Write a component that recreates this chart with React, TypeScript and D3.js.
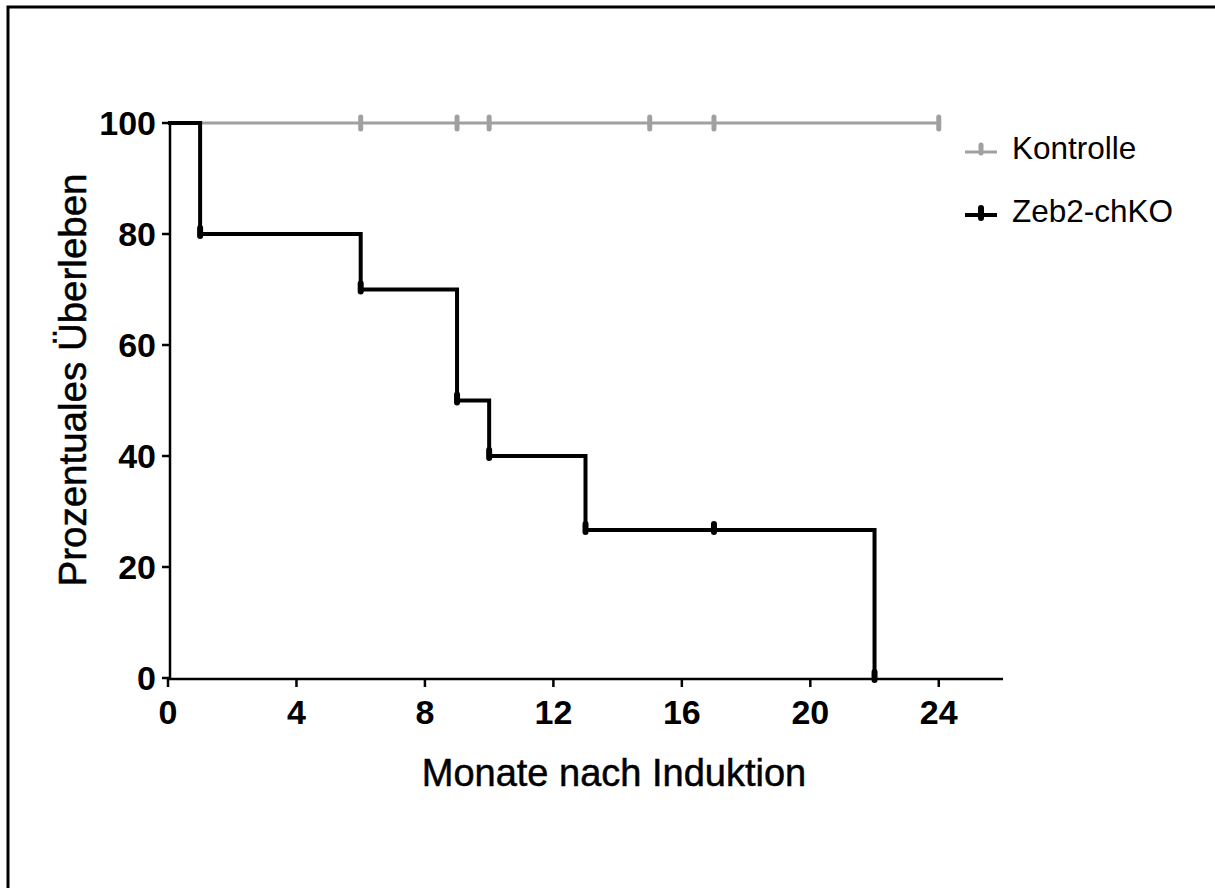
import React, { useEffect } from "react";
import * as d3 from "d3";

const xTicks = [0, 4, 8, 12, 16, 20, 24];
const yTicks = [0, 20, 40, 60, 80, 100];

// Kontrolle: step curve (time, survival) and censor marks
const kontrolleSteps: [number, number][] = [[0, 100], [24, 100]];
const kontrolleCensor: [number, number][] = [[6, 100], [9, 100], [10, 100], [15, 100], [17, 100], [24, 100]];

// Zeb2-chKO
const zebSteps: [number, number][] = [
  [0, 100], [1, 80], [6, 70], [9, 50], [10, 40], [13, 26.67], [22, 0],
];
const zebCensor: [number, number][] = [
  [1, 80], [6, 70], [9, 50], [10, 40], [13, 26.67], [17, 26.67], [22, 0],
];

const seriesNames = ["Kontrolle", "Zeb2-chKO"];
const seriesColors = ["#a0a0a0", "#000000"];

const W = 1215, H = 888;
const x0 = 168, x1 = 1003;
const yTop = 123, yBot = 678;

export default function App() {
  useEffect(() => {
    document.body.style.margin = "0";
    document.body.style.overflow = "hidden";
  }, []);
  const x = d3.scaleLinear().domain([0, 26]).range([x0, x1]);
  const y = d3.scaleLinear().domain([0, 100]).range([yBot, yTop]);
  const line = d3.line<[number, number]>().x(d => x(d[0])).y(d => y(d[1])).curve(d3.curveStepAfter);
  const font = "Arial, 'Liberation Sans', sans-serif";

  return (
    <svg width={W} height={H} style={{ position: "absolute", left: 0, top: 0, display: "block", background: "#fff" }}>
      <rect x={0} y={0} width={W} height={H} fill="#fff" />
      <path d={`M8,${H + 5} V7 H${W + 5}`} fill="none" stroke="#000" strokeWidth={3} />

      {/* axes */}
      <line x1={x(0)} x2={x(26)} y1={yBot + 1} y2={yBot + 1} stroke="#000" strokeWidth={2.5} />
      <line x1={170} x2={170} y1={yTop} y2={yBot + 1} stroke="#000" strokeWidth={2.5} />
      {yTicks.map(t => (
        <g key={"y" + t}>
          <line x1={162} x2={170} y1={y(t)} y2={y(t)} stroke="#000" strokeWidth={2.5} />
          <text x={156} y={y(t)} dy="0.36em" textAnchor="end" fontFamily={font} fontWeight="bold" fontSize={34} fill="#000">{t}</text>
        </g>
      ))}
      {xTicks.map(t => (
        <g key={"x" + t}>
          <line x1={x(t)} x2={x(t)} y1={yBot + 1} y2={yBot + 9} stroke="#000" strokeWidth={2.5} />
          <text x={x(t)} y={724} textAnchor="middle" fontFamily={font} fontWeight="bold" fontSize={34} fill="#000">{t}</text>
        </g>
      ))}

      {/* Kontrolle */}
      <path d={line(kontrolleSteps) || ""} fill="none" stroke={seriesColors[0]} strokeWidth={3} />
      {kontrolleCensor.map((c, i) => (
        <line key={"kc" + i} x1={x(c[0])} x2={x(c[0])} y1={y(c[1]) - 6} y2={y(c[1]) + 6} stroke={seriesColors[0]} strokeWidth={5} strokeLinecap="round" />
      ))}

      {/* Zeb2-chKO */}
      <path d={line(zebSteps) || ""} fill="none" stroke={seriesColors[1]} strokeWidth={4} />
      {zebCensor.map((c, i) => (
        <line key={"zc" + i} x1={x(c[0])} x2={x(c[0])} y1={y(c[1]) - 6} y2={y(c[1]) + 2} stroke={seriesColors[1]} strokeWidth={6} strokeLinecap="round" />
      ))}

      {/* axis titles */}
      <text x={614} y={786} textAnchor="middle" fontFamily={font} fontSize={38} fill="#000" stroke="#000" strokeWidth={0.5}>Monate nach Induktion</text>
      <text transform={`translate(86,380) rotate(-90)`} textAnchor="middle" fontFamily={font} fontSize={38.5} fill="#000" stroke="#000" strokeWidth={0.5}>Prozentuales Überleben</text>

      {/* legend */}
      {seriesNames.map((n, i) => {
        const ly = 152 + i * 63;
        return (
          <g key={n}>
            <line x1={965} x2={997} y1={ly} y2={ly} stroke={seriesColors[i]} strokeWidth={i ? 4 : 3} />
            <line x1={981} x2={981} y1={ly - 7} y2={ly + (i ? 3 : 1)} stroke={seriesColors[i]} strokeWidth={i ? 6 : 5} strokeLinecap="round" />
            <text x={1012} y={ly + 7} fontFamily={font} fontSize={31.5} fill="#000">{n}</text>
          </g>
        );
      })}
    </svg>
  );
}
